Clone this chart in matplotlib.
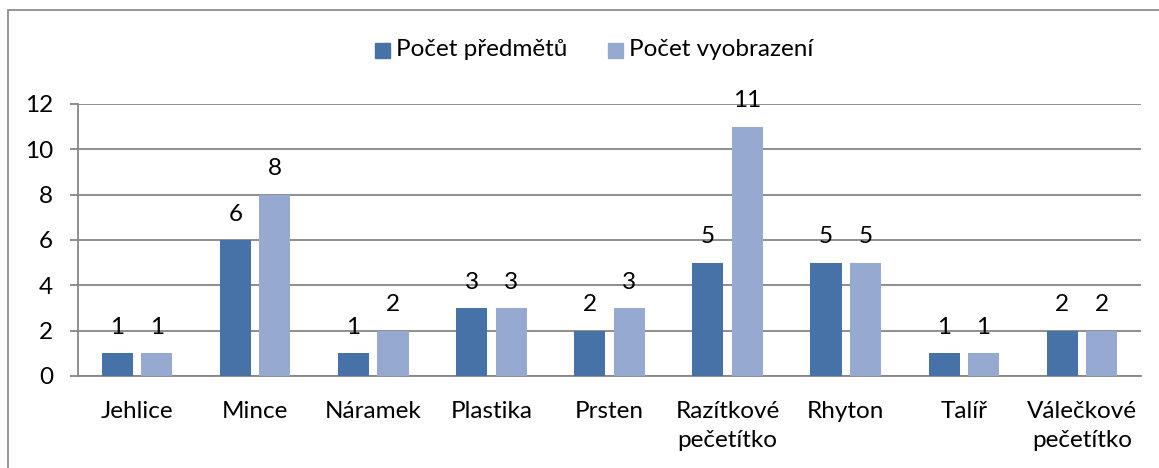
import matplotlib.pyplot as plt
import numpy as np
from matplotlib.patches import Rectangle

categories = ["Jehlice", "Mince", "Náramek", "Plastika", "Prsten",
              "Razítkové\npečetítko", "Rhyton", "Talíř", "Válečkové\npečetítko"]
predmety = [1, 6, 1, 3, 2, 5, 5, 1, 2]
vyobrazeni = [1, 8, 2, 3, 3, 11, 5, 1, 2]
series_names = ["Počet předmětů", "Počet vyobrazení"]
yticks = [0, 2, 4, 6, 8, 10, 12]

DARK = "#4672a8"
LIGHT = "#95a9d1"
GRID = "#868686"

W, H = 1159, 468
plt.rcParams["font.family"] = ["Lato", "DejaVu Sans"]
FS = 17.5

fig = plt.figure(figsize=(W / 100, H / 100), dpi=100)
ax = fig.add_axes([78 / W, 1 - 376 / H, (1141 - 78) / W, (376 - 104) / H])

x = np.arange(len(categories))
bw = 0.263
off = 0.167
b1 = ax.bar(x - off, predmety, bw, color=DARK, zorder=3)
b2 = ax.bar(x + off, vyobrazeni, bw, color=LIGHT, zorder=3)

for bars, vals in ((b1, predmety), (b2, vyobrazeni)):
    for r, v in zip(bars, vals):
        ax.annotate(str(v), (r.get_x() + r.get_width() / 2, v),
                    xytext=(0, 18.5), textcoords="offset points",
                    ha="center", va="center", fontsize=FS, zorder=4)

ax.set_xlim(-0.5, len(categories) - 0.5)
ax.set_ylim(0, 12)
ax.set_yticks(yticks)
ax.set_yticklabels([str(t) for t in yticks], fontsize=FS)
ax.set_xticks(x)
ax.set_xticklabels(categories, fontsize=FS, va="top")
for t in ax.get_xticklabels():
    t.set_linespacing(1.45)
ax.yaxis.grid(True, color=GRID, linewidth=1.3, zorder=0)
ax.tick_params(axis="y", length=6, width=1.3, color=GRID, pad=12)
ax.tick_params(axis="x", length=0, pad=18)
for s in ("top", "right"):
    ax.spines[s].set_visible(False)
for s in ("left", "bottom"):
    ax.spines[s].set_color(GRID)
    ax.spines[s].set_linewidth(1.3)

# outer chart frame
fig.patches.append(Rectangle((8 / W, -0.1), 1.2, 1 - 10 / H + 0.1,
                             transform=fig.transFigure, fill=False,
                             edgecolor="#8c8c8c", linewidth=1.3))

# legend
for xm, col, name in ((375, DARK, series_names[0]), (608, LIGHT, series_names[1])):
    fig.patches.append(Rectangle((xm / W, 1 - 58 / H), 15 / W, 15 / H,
                                 transform=fig.transFigure, color=col))
    fig.text((xm + 21) / W, 1 - 50 / H, name, fontsize=FS,
             ha="left", va="center")

fig.savefig("out.png", dpi=100)
